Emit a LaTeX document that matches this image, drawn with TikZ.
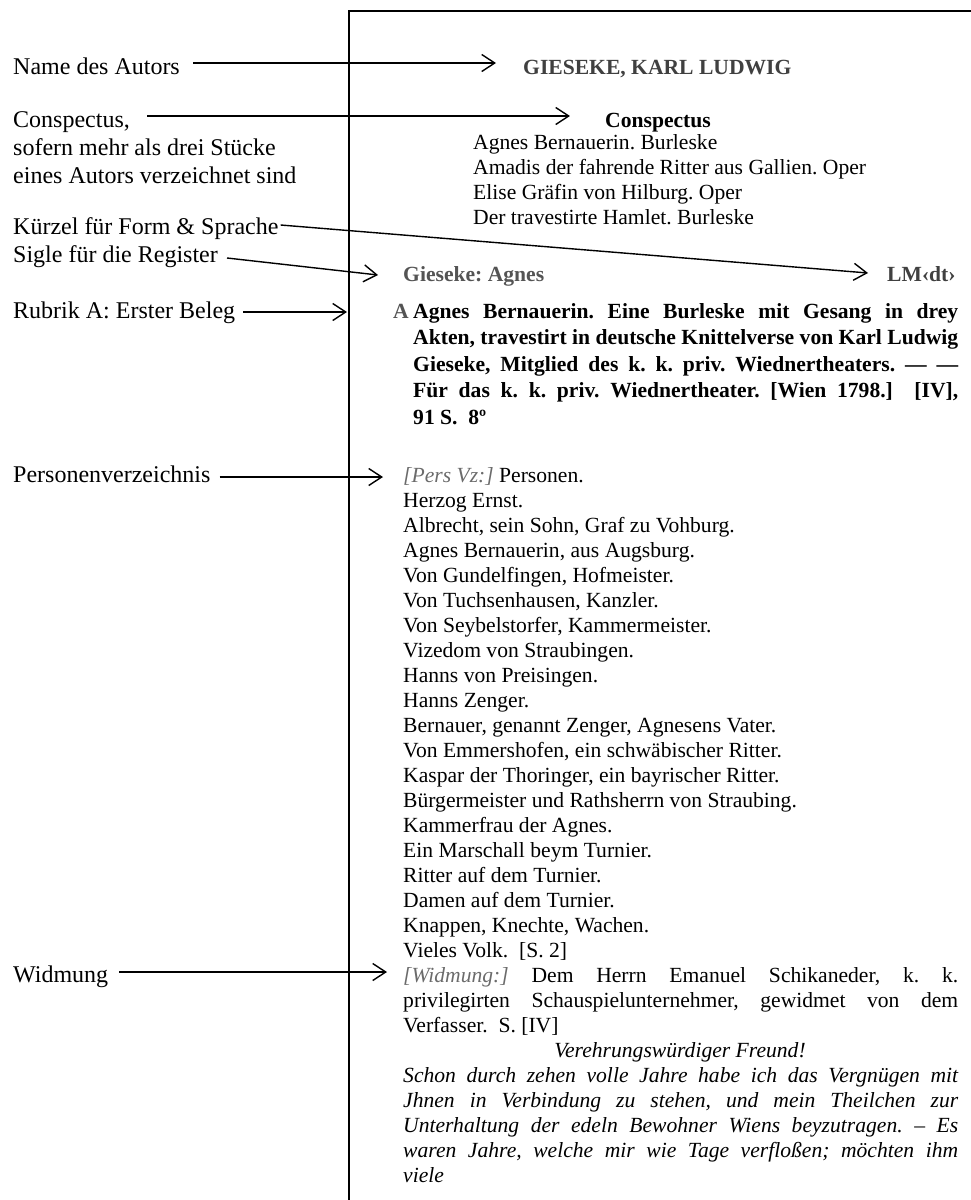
\documentclass[tikz,border=0pt]{standalone}
\usepackage{fontspec}
\setmainfont{Liberation Serif}
\usetikzlibrary{arrows.meta}
\frenchspacing

\definecolor{dunkelgrau}{gray}{0.25}
\definecolor{mittelgrau}{gray}{0.33}
\definecolor{hellgrau}{gray}{0.42}

\tikzset{
  links/.style={anchor=base west, inner sep=0pt, font=\fontsize{24}{28.5}\selectfont},
  rechts/.style={anchor=base west, inner sep=0pt, font=\fontsize{21.6}{25}\selectfont},
  fett/.style={rechts, font=\fontsize{21.6}{26.5}\selectfont\bfseries},
  zeiger/.style={-{Straight Barb[length=13pt,width=17pt]}, line width=1.4pt}
}

\begin{document}
\begin{tikzpicture}[x=1pt,y=-1pt]
  \useasboundingbox (0,0) rectangle (971,1200);
  % Rahmen
  \draw[line width=1.8pt] (349,1200) -- (349,11) -- (971,11);

  % linke Spalte
  \node[links] (autor) at (13,74) {Name des Autors};
  \node[links] (consp) at (13,127) {Conspectus,};
  \node[links] (consp2) at (13,155) {sofern mehr als drei Stücke};
  \node[links] (consp3) at (13,183) {eines Autors verzeichnet sind};
  \node[links] (kuerzel) at (13,234) {Kürzel für Form \& Sprache};
  \node[links] (sigle) at (13,262) {Sigle für die Register};
  \node[links] (rubrik) at (13,318) {Rubrik A: Erster Beleg};
  \node[links] (persvz) at (13,482) {Personenverzeichnis};
  \node[links] (widmung) at (13,982) {Widmung};

  % rechte Spalte
  \node[fett, text=dunkelgrau] (gieseke) at (523,74) {GIESEKE, KARL LUDWIG};
  \node[fett, anchor=base] (conspectus) at (658,127) {Conspectus};
  \node[rechts] (werk1) at (473,149) {Agnes Bernauerin. Burleske};
  \node[rechts] (werk2) at (473,174) {Amadis der fahrende Ritter aus Gallien. Oper};
  \node[rechts] (werk3) at (473,199) {Elise Gräfin von Hilburg. Oper};
  \node[rechts] (werk4) at (473,224) {Der travestirte Hamlet. Burleske};
  \node[fett, text=mittelgrau] (sigel) at (403,281) {Gieseke: Agnes};
  \node[fett, text=dunkelgrau] (lm) at (887,281) {LM‹dt›};
  \node[fett, text=mittelgrau] (rubA) at (393,318) {A};
  \node[fett, text width=545pt, align=justify] (beleg) at (413,318)
    {Agnes Bernauerin. Eine Burleske mit Gesang in drey\linebreak
     Akten, travestirt in deutsche Knittelverse von Karl Ludwig\linebreak
     Gieseke, Mitglied des k. k. priv. Wiednertheaters. — —\linebreak
     Für das k. k. priv. Wiednertheater. [Wien 1798.]\ \ [IV],\linebreak
     91 S.\ \ 8º};

  \node[rechts] (pers) at (403,482) {\textcolor{hellgrau}{\itshape [Pers Vz:]} Personen.};
  \foreach \zeile [count=\i] in {Herzog Ernst.,
      {Albrecht, sein Sohn, Graf zu Vohburg.},
      {Agnes Bernauerin, aus Augsburg.},
      {Von Gundelfingen, Hofmeister.},
      {Von Tuchsenhausen, Kanzler.},
      {Von Seybelstorfer, Kammermeister.},
      Vizedom von Straubingen.,
      Hanns von Preisingen.,
      Hanns Zenger.,
      {Bernauer, genannt Zenger, Agnesens Vater.},
      {Von Emmershofen, ein schwäbischer Ritter.},
      {Kaspar der Thoringer, ein bayrischer Ritter.},
      Bürgermeister und Rathsherrn von Straubing.,
      Kammerfrau der Agnes.,
      Ein Marschall beym Turnier.,
      Ritter auf dem Turnier.,
      Damen auf dem Turnier.,
      {Knappen, Knechte, Wachen.},
      {Vieles Volk.\ \ [S. 2]}}
    \node[rechts] (pers\i) at (403,482+25*\i) {\zeile};

  \node[rechts, text width=555pt, align=justify] (widm) at (403,982)
    {\textcolor{hellgrau}{\itshape [Widmung:]} Dem Herrn Emanuel Schikaneder, k. k.\linebreak
     privilegirten Schauspielunternehmer, gewidmet von dem\linebreak
     Verfasser.\ \ S. [IV]};
  \node[rechts, anchor=base, font=\fontsize{21.6}{25}\selectfont\itshape] (freund) at (680,1057)
    {Verehrungswürdiger Freund!};
  \node[rechts, text width=555pt, align=justify, font=\fontsize{21.6}{25}\selectfont\itshape] (brief) at (403,1082)
    {Schon durch zehen volle Jahre habe ich das Vergnügen mit\linebreak
     Jhnen in Verbindung zu stehen, und mein Theilchen zur\linebreak
     Unterhaltung der edeln Bewohner Wiens beyzutragen. – Es\linebreak
     waren Jahre, welche mir wie Tage verfloßen; möchten ihm\linebreak
     viele};

  % Zeiger
  \draw[zeiger] ([shift={(13,-11)}]autor.base east) -- ([shift={(-27,-11)}]gieseke.base west);
  \draw[zeiger] ([shift={(17,-11)}]consp.base east) -- ([shift={(-35,-11)}]conspectus.base west);
  \draw[zeiger] ([shift={(2,-9)}]kuerzel.base east) -- ([shift={(-19,-8)}]lm.base west);
  \draw[zeiger] ([shift={(9,-4)}]sigle.base east) -- ([shift={(-25,-6)}]sigel.base west);
  \draw[zeiger] ([shift={(8,-6)}]rubrik.base east) -- ([shift={(-46,-6)}]rubA.base west);
  \draw[zeiger] ([shift={(9,-5)}]persvz.base east) -- ([shift={(-20,-5)}]pers.base west);
  \draw[zeiger] ([shift={(11,-10)}]widmung.base east) -- ([shift={(-16,-10)}]widm.base west);
\end{tikzpicture}
\end{document}
